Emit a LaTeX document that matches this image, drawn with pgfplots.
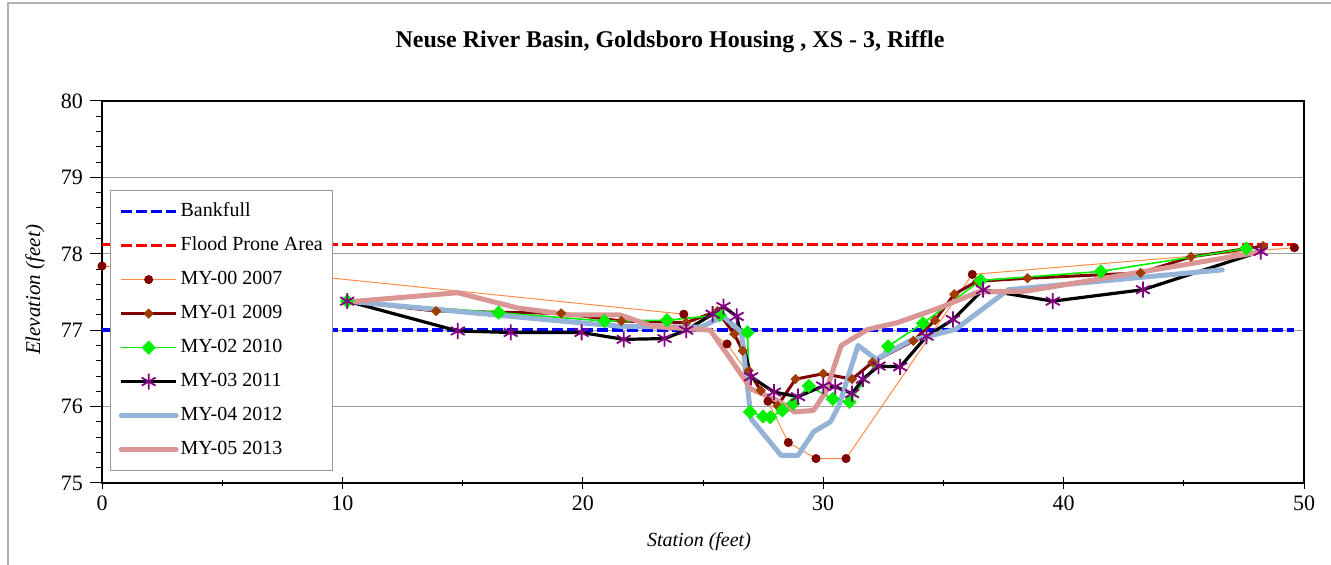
\documentclass[border=0pt]{standalone}
\usepackage{fontspec}
\setmainfont{Liberation Serif}
\usepackage{pgfplots}
\pgfplotsset{compat=1.18}

\definecolor{bankblue}{RGB}{0,0,255}
\definecolor{floodred}{RGB}{255,0,0}
\definecolor{myorange}{RGB}{255,140,70}
\definecolor{mydarkred}{RGB}{128,0,0}
\definecolor{mysienna}{RGB}{160,60,0}
\definecolor{mygreen}{RGB}{0,240,0}
\definecolor{mypurple}{RGB}{128,0,128}
\definecolor{mysteel}{RGB}{149,179,215}
\definecolor{myrose}{RGB}{217,150,148}

\begin{document}
\begin{tikzpicture}[x=1pt,y=1pt]
\useasboundingbox (0,0) rectangle (665.5,282.5);
\draw[gray!60, line width=0.6pt] (4,0) -- (4,281) -- (665.5,281);

\begin{axis}[
    at={(51pt,41pt)}, anchor=south west,
    scale only axis, width=601pt, height=191pt,
    xmin=0, xmax=50, ymin=75, ymax=80,
    xtick={0,10,...,50}, ytick={75,76,...,80},
    minor x tick num=1, minor y tick num=4,
    tick pos=left,
    xtick align=center, ytick align=outside,
    major tick length=6pt, minor tick length=3pt,
    tick style={black, line width=0.5pt},
    axis line style={black, line width=1pt},
    ymajorgrids=true,
    grid style={gray!75, line width=0.6pt},
    /pgf/number format/assume math mode=true,
    ticklabel style={font=\fontsize{11}{13}\selectfont},
    legend cell align=left,
    legend style={at={(0.0067,0.767)}, anchor=north west,
        draw=gray!80, line width=0.6pt,
        font=\fontsize{10}{12}\selectfont,
        row sep=6pt, inner xsep=4pt, inner ysep=5pt,
        nodes={inner sep=1pt, text height=7pt, text depth=2pt}},
    legend image code/.code={
        \draw[mark repeat=2,mark phase=2,#1]
        plot coordinates {(0pt,0pt) (13.75pt,0pt) (27.5pt,0pt)};},
]
% Bankfull
\addplot[bankblue, line width=1.7pt, dash pattern=on 5.5pt off 2pt] coordinates {
    (0,77.0) (49.6,77.0)};
\addlegendentry{Bankfull}
% Flood Prone Area
\addplot[floodred, line width=1.7pt, dash pattern=on 5.5pt off 2pt] coordinates {
    (0,78.12) (49.6,78.12)};
\addlegendentry{Flood Prone Area}
% MY-00 2007
\addplot[myorange, line width=0.5pt, mark=*, mark size=2pt,
    mark options={solid, fill=mydarkred, draw=mydarkred}] table {
    0.00  77.84
    9.00  77.70
    24.20 77.21
    26.00 76.82
    27.70 76.07
    28.55 75.53
    29.70 75.32
    30.95 75.32
    36.20 77.73
    49.60 78.08
};
\addlegendentry{MY-00 2007}
% MY-01 2009
\addplot[mydarkred, line width=1.5pt, mark=square*, mark size=1.6pt,
    mark options={solid, rotate=45, fill=mysienna, draw=mysienna, line width=0.4pt}] table {
    10.20 77.38
    13.90 77.25
    19.10 77.22
    21.60 77.12
    24.30 77.10
    25.60 77.25
    26.30 76.95
    26.65 76.73
    26.90 76.47
    27.40 76.21
    28.10 76.01
    28.85 76.36
    30.00 76.43
    31.20 76.36
    32.05 76.58
    33.75 76.86
    34.65 77.13
    35.45 77.47
    36.40 77.64
    38.50 77.68
    43.20 77.75
    45.30 77.96
    48.30 78.10
};
\addlegendentry{MY-01 2009}
% MY-02 2010
\addplot[mygreen, line width=0.8pt, mark=square*, mark size=2.3pt,
    mark options={solid, rotate=45, fill=mygreen, draw=mygreen, line width=0.4pt}] table {
    10.20 77.38
    16.50 77.23
    20.90 77.12
    23.50 77.13
    25.70 77.20
    26.85 76.97
    26.95 75.93
    27.50 75.87
    27.80 75.86
    28.30 75.95
    28.75 76.04
    29.40 76.27
    30.40 76.10
    31.10 76.06
    32.70 76.79
    34.15 77.09
    36.55 77.65
    41.55 77.77
    47.60 78.07
};
\addlegendentry{MY-02 2010}
% MY-03 2011
\addplot[black, line width=1.6pt, mark=asterisk, mark size=4pt,
    mark options={solid, draw=mypurple, line width=0.9pt}] table {
    10.20 77.38
    14.80 76.99
    17.00 76.97
    19.95 76.97
    21.70 76.88
    23.40 76.89
    24.30 77.00
    25.40 77.21
    25.85 77.31
    26.40 77.18
    27.00 76.39
    27.95 76.19
    28.95 76.13
    30.00 76.27
    30.50 76.26
    31.20 76.17
    31.65 76.36
    32.30 76.53
    33.20 76.52
    34.30 76.92
    35.40 77.14
    36.65 77.53
    39.55 77.38
    43.30 77.53
    48.20 78.03
};
\addlegendentry{MY-03 2011}
% MY-04 2012
\addplot[mysteel, line width=2.5pt, line cap=round, line join=round] table {
    10.20 77.38
    19.10 77.12
    21.60 77.05
    24.90 77.04
    25.85 77.18
    26.60 76.97
    27.00 75.84
    28.25 75.36
    28.95 75.36
    29.60 75.67
    30.30 75.80
    30.65 76.01
    31.45 76.80
    32.20 76.62
    33.60 76.86
    35.50 77.01
    37.70 77.53
    46.60 77.79
};
\addlegendentry{MY-04 2012}
% MY-05 2013
\addplot[myrose, line width=2.5pt, line cap=round, line join=round] table {
    10.20 77.37
    14.80 77.49
    17.30 77.29
    19.50 77.20
    21.55 77.20
    22.90 77.05
    25.30 77.00
    26.15 76.62
    27.00 76.23
    28.10 76.08
    28.80 75.93
    29.60 75.95
    30.10 76.19
    30.75 76.80
    31.85 77.01
    33.10 77.10
    34.90 77.30
    36.45 77.50
    38.40 77.51
    41.30 77.66
    48.30 78.03
};
\addlegendentry{MY-05 2013}
\end{axis}

\node[font=\fontsize{12}{14}\selectfont\bfseries] at (335,261.5)
    {Neuse River Basin, Goldsboro Housing , XS - 3, Riffle};
\node[font=\fontsize{10}{12}\selectfont\itshape] at (349.5,11.5) {Station (feet)};
\node[font=\fontsize{10.5}{12}\selectfont\itshape, rotate=90] at (17.5,137.5)
    {Elevation (feet)};
\end{tikzpicture}
\end{document}
